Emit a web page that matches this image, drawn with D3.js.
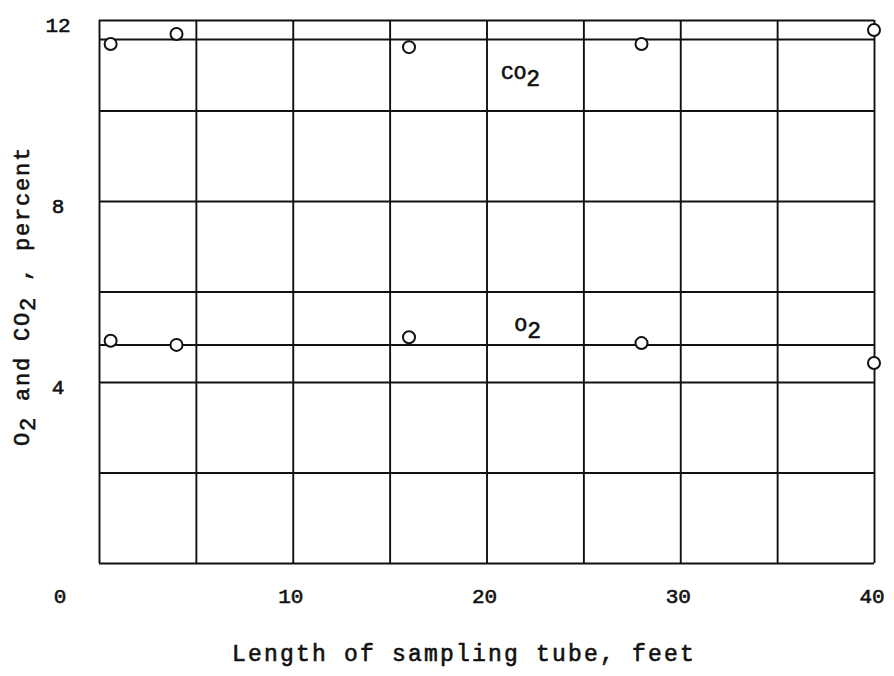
<!DOCTYPE html>
<html>
<head>
<meta charset="utf-8">
<script src="https://cdn.jsdelivr.net/npm/d3@7"></script>
<style>
  body { margin: 0; background: #fff; }
  svg text { font-family: "Liberation Mono", "DejaVu Sans Mono", monospace; fill: #111; stroke: #111; stroke-width: 0.6px; }
</style>
</head>
<body>
<svg id="grafico" width="894" height="676"></svg>
<script>
// Dados (comprimento em pés, percentagem)
const comprimento = [0.6, 4, 16, 28, 40];
const valoresCO2 = [11.47, 11.69, 11.40, 11.47, 11.78];
const valoresO2 = [4.91, 4.82, 4.99, 4.86, 4.42];
const mediaCO2 = 11.57;
const mediaO2 = 4.82;
const ticksX = [10, 20, 30, 40];
const ticksY = [4, 8, 12];

const svg = d3.select("#grafico");
const margem = { top: 20, right: 20, bottom: 113, left: 99 };
const largura = 894 - margem.left - margem.right;
const altura = 676 - margem.top - margem.bottom;

const g = svg.append("g").attr("transform", `translate(${margem.left},${margem.top})`);

const x = d3.scaleLinear().domain([0, 40]).range([0, largura]);
const y = d3.scaleLinear().domain([0, 12]).range([altura, 0]);

// Grade
const gradeX = g.append("g")
  .attr("transform", `translate(0,${altura})`)
  .call(d3.axisBottom(x).tickValues(d3.range(0, 41, 5)).tickSize(-altura).tickFormat(""));
const gradeY = g.append("g")
  .call(d3.axisLeft(y).tickValues(d3.range(0, 13, 2)).tickSize(-largura).tickFormat(""));
[gradeX, gradeY].forEach(a => {
  a.select(".domain").remove();
  a.selectAll("line").attr("stroke", "#111").attr("stroke-width", 1.9);
});

// Rótulos dos eixos
g.selectAll(".rotx")
  .data(ticksX)
  .enter().append("text")
  .attr("x", d => x(d) - 2)
  .attr("y", altura + 40)
  .attr("text-anchor", "middle")
  .attr("font-size", 21)
  .text(d => d);

g.append("text")
  .attr("x", -39)
  .attr("y", altura + 40)
  .attr("text-anchor", "middle")
  .attr("font-size", 21)
  .text("0");

g.selectAll(".roty")
  .data(ticksY)
  .enter().append("text")
  .attr("x", -41)
  .attr("y", d => y(d) + 12)
  .attr("text-anchor", "middle")
  .attr("font-size", 21)
  .text(d => d);

// Linhas médias
const linha = d3.line().x(d => x(d[0])).y(d => y(d[1]));
[mediaCO2, mediaO2].forEach(m => {
  g.append("path")
    .attr("d", linha([[0, m], [40, m]]))
    .attr("stroke", "#111")
    .attr("stroke-width", 2)
    .attr("fill", "none");
});

// Pontos
[valoresCO2, valoresO2].forEach(serie => {
  g.selectAll(null)
    .data(serie.map((v, i) => [comprimento[i], v]))
    .enter().append("circle")
    .attr("cx", d => x(d[0]))
    .attr("cy", d => y(d[1]))
    .attr("r", 6)
    .attr("fill", "#fff")
    .attr("stroke", "#111")
    .attr("stroke-width", 2);
});

// Rótulos das séries
function rotuloQuimico(texto, px, py) {
  const t = g.append("text").attr("x", px).attr("y", py).attr("font-size", 21);
  t.append("tspan").text(texto);
  t.append("tspan").attr("dy", 7).attr("font-size", 23).text("2");
}
rotuloQuimico("CO", x(20.75), y(10.7));
rotuloQuimico("O", x(21.45), y(5.12));

// Títulos
g.append("text")
  .attr("x", 133)
  .attr("y", altura + 98)
  .attr("font-size", 23)
  .style("letter-spacing", "2.2px")
  .text("Length of sampling tube, feet");

const tituloY = g.append("text")
  .attr("transform", `translate(-70,${y(5.9)}) rotate(-90)`)
  .attr("text-anchor", "middle")
  .attr("font-size", 22)
  .style("letter-spacing", "1.8px");
tituloY.append("tspan").text("O");
tituloY.append("tspan").attr("dy", 6).text("2");
tituloY.append("tspan").attr("dy", -6).text(" and CO");
tituloY.append("tspan").attr("dy", 6).text("2");
tituloY.append("tspan").attr("dy", -6).text(" , percent");
</script>
</body>
</html>
